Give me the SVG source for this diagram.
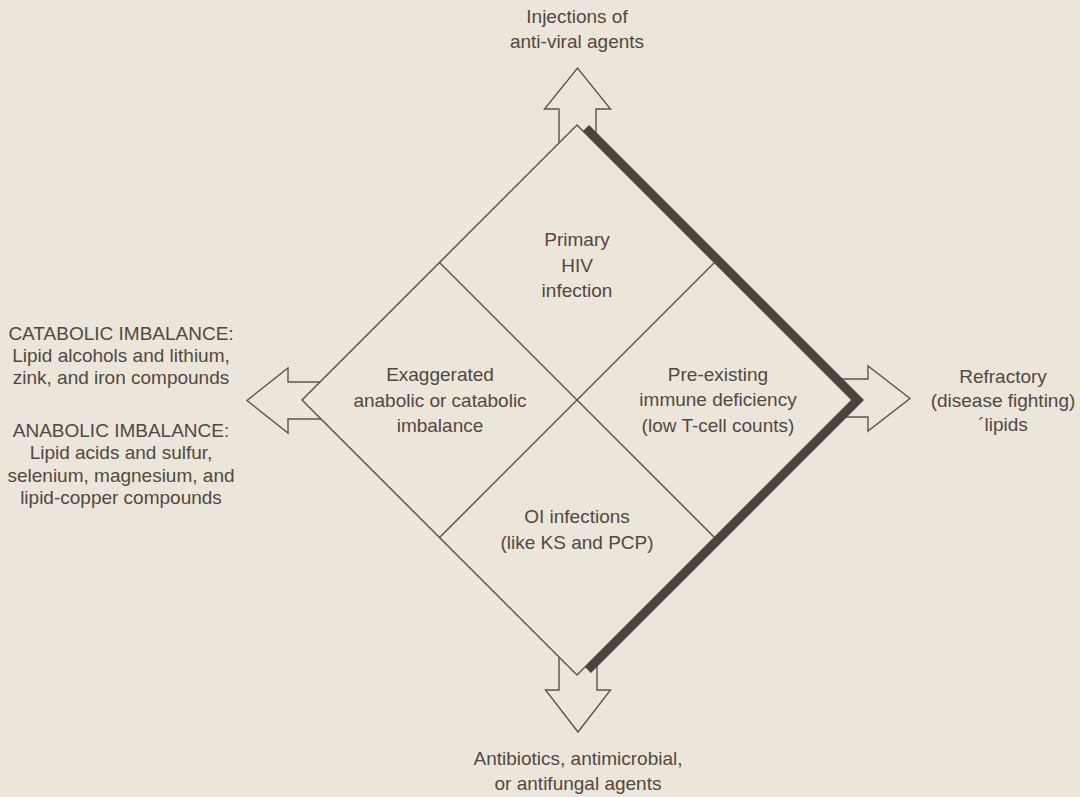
<svg xmlns="http://www.w3.org/2000/svg" width="1080" height="797" viewBox="0 0 1080 797">
  <style>
    .bg { fill: #ece5d9; }
    .arrow { fill: #ece5d9; stroke: #5e554d; stroke-width: 1.4; stroke-linejoin: miter; }
    .thin { fill: none; stroke: #5e554d; stroke-width: 1.5; }
    .dia { fill: #ece5d9; stroke: #5e554d; stroke-width: 1.5; }
    .thick { fill: none; stroke: #4a433e; stroke-width: 8.5; stroke-linejoin: miter; stroke-linecap: butt; }
    text { font-family: "Liberation Sans", Arial, sans-serif; font-size: 19px; fill: #514941; text-anchor: middle; }
  </style>
  <rect class="bg" x="0" y="0" width="1080" height="797"/>

  <g id="connectors">
    <polygon id="arrow-top" class="arrow" points="559,170 559,109 544.5,109 577.5,68 610.5,109 596,109 596,170"/>
    <polygon id="arrow-bottom" class="arrow" points="559,630 559,690 545.5,690 578,732 610.5,690 597,690 597,630"/>
    <polygon id="arrow-left" class="arrow" points="340,382 288,382 288,368 247,400.5 288,433 288,419 340,419"/>
    <polygon id="arrow-right" class="arrow" points="820,379 868,379 868,366 910,398.5 868,431 868,417 820,417"/>
  </g>

  <g id="diamond">
    <polygon class="dia" points="577,125 852,400 577,675 302,400"/>
    <line class="thin" x1="439.5" y1="262.5" x2="714.5" y2="537.5"/>
    <line class="thin" x1="714.5" y1="262.5" x2="439.5" y2="537.5"/>
    <polyline class="thick" points="586,128 858,400 588,670"/>
  </g>

  <g id="node-primary-hiv">
    <text x="577" y="246">Primary</text>
    <text x="577" y="272">HIV</text>
    <text x="577" y="297">infection</text>
  </g>
  <g id="node-imbalance">
    <text x="440" y="381">Exaggerated</text>
    <text x="440" y="407">anabolic or catabolic</text>
    <text x="440" y="432">imbalance</text>
  </g>
  <g id="node-immune-deficiency">
    <text x="718" y="381">Pre-existing</text>
    <text x="718" y="406">immune deficiency</text>
    <text x="718" y="432">(low T-cell counts)</text>
  </g>
  <g id="node-oi-infections">
    <text x="577" y="523">OI infections</text>
    <text x="577" y="549">(like KS and PCP)</text>
  </g>

  <g id="label-top">
    <text x="577" y="23">Injections of</text>
    <text x="577" y="48">anti-viral agents</text>
  </g>
  <g id="label-left">
    <text x="121" y="340">CATABOLIC IMBALANCE:</text>
    <text x="121" y="362">Lipid alcohols and lithium,</text>
    <text x="121" y="384">zink, and iron compounds</text>
    <text x="121" y="437">ANABOLIC IMBALANCE:</text>
    <text x="121" y="459">Lipid acids and sulfur,</text>
    <text x="121" y="482">selenium, magnesium, and</text>
    <text x="121" y="504">lipid-copper compounds</text>
  </g>
  <g id="label-right">
    <text x="1003" y="383">Refractory</text>
    <text x="1003" y="407">(disease fighting)</text>
    <text x="1003" y="431">´lipids</text>
  </g>
  <g id="label-bottom">
    <text x="578" y="765">Antibiotics, antimicrobial,</text>
    <text x="578" y="790">or antifungal agents</text>
  </g>
</svg>
